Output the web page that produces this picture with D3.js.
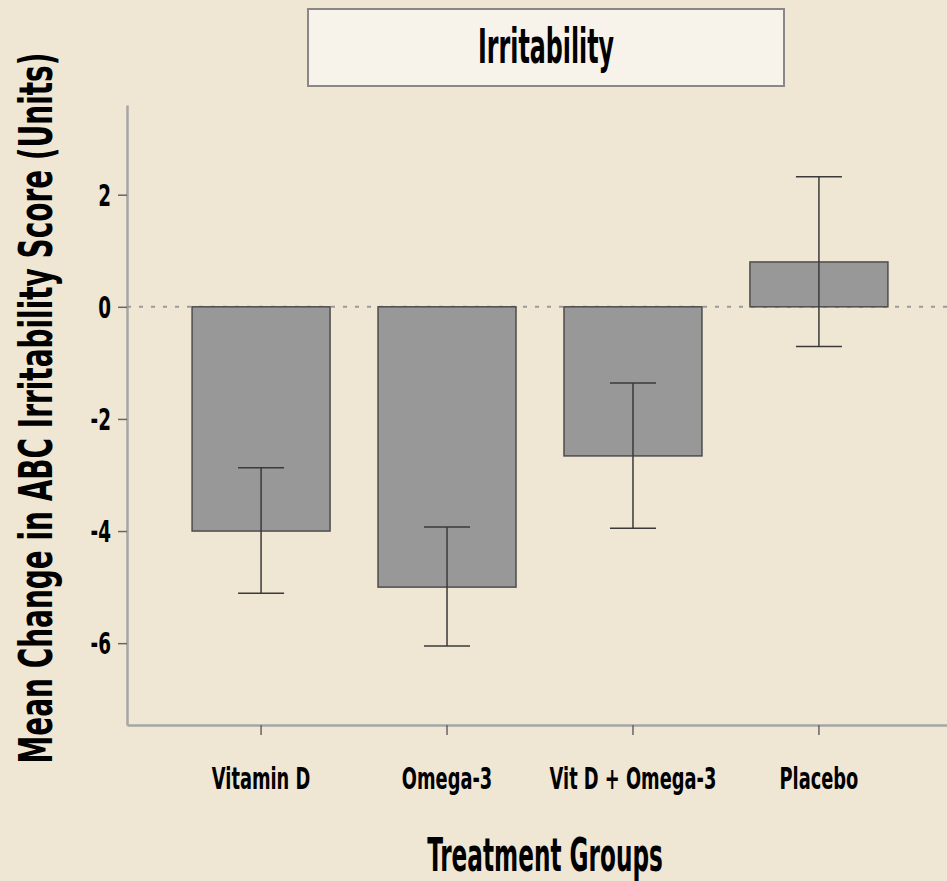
<!DOCTYPE html>
<html>
<head>
<meta charset="utf-8">
<script src="https://cdn.jsdelivr.net/npm/d3@7"></script>
<style>
  body { margin: 0; background: #f0e6d4; }
  text { font-family: "Liberation Sans Narrow", "DejaVu Sans Condensed", "Roboto", sans-serif; font-weight: bold; fill: #000; }
</style>
</head>
<body>
<div id="chart"></div>
<script>
// data
var groups = ["Vitamin D", "Omega-3", "Vit D + Omega-3", "Placebo"];
var means = [-4.0, -5.0, -2.66, 0.8];
var errLow = [-5.11, -6.05, -3.95, -0.71];
var errHigh = [-2.87, -3.93, -1.36, 2.32];
var yTicks = [-6, -4, -2, 0, 2];

var W = 947, H = 881;
var margin = { top: 105, left: 127, bottom: 725 };

var data = groups.map(function (g, i) {
    return { group: g, mean: means[i], lo: errLow[i], hi: errHigh[i] };
});

var svg = d3.select("#chart")
    .append("svg")
    .attr("width", W)
    .attr("height", H);

// squeeze text horizontally to get the condensed look
function squeeze(sel, k) {
    sel.each(function () {
        var len = this.getComputedTextLength();
        d3.select(this).attr("textLength", len * k).attr("lengthAdjust", "spacingAndGlyphs");
    });
}

var x = d3.scaleBand()
    .domain(groups)
    .range([margin.left, 953])
    .paddingInner(0.258)
    .paddingOuter(0.35);

var y = d3.scaleLinear()
    .domain([-7.46, 3.6])
    .range([margin.bottom, margin.top]);

// title box
svg.append("rect")
    .attr("x", 308).attr("y", 9)
    .attr("width", 476).attr("height", 77)
    .attr("fill", "#f7f2ea")
    .attr("stroke", "#888")
    .attr("stroke-width", 2);
svg.append("text")
    .attr("x", 546).attr("y", 63)
    .attr("text-anchor", "middle")
    .style("font-size", "48px")
    .text("Irritability")
    .call(squeeze, 0.55);

// Y axis
var yAxis = svg.append("g")
    .attr("transform", "translate(" + margin.left + ",0)")
    .call(d3.axisLeft(y).tickValues(yTicks).tickSize(9).tickPadding(7).tickSizeOuter(0)
        .tickFormat(function (d) { return String(d); }));
yAxis.select(".domain").attr("stroke", "#a6a6a6").attr("stroke-width", 2.5);
yAxis.selectAll(".tick line").attr("stroke", "#666").attr("stroke-width", 1.5);
yAxis.selectAll(".tick text").style("font-size", "30px").attr("dy", "0.36em").call(squeeze, 0.68);

// X axis
var xAxis = svg.append("g")
    .attr("transform", "translate(0," + margin.bottom + ")")
    .call(d3.axisBottom(x).tickSize(10).tickPadding(33).tickSizeOuter(0));
xAxis.select(".domain").attr("stroke", "#a6a6a6").attr("stroke-width", 2.5);
xAxis.selectAll(".tick line").attr("stroke", "#666").attr("stroke-width", 1.5);
xAxis.selectAll(".tick text").style("font-size", "30px").attr("dy", "0.71em").call(squeeze, 0.66);

// zero reference line
svg.append("line")
    .attr("x1", margin.left).attr("x2", W)
    .attr("y1", y(0)).attr("y2", y(0))
    .attr("stroke", "#9a9a9a")
    .attr("stroke-width", 2)
    .attr("stroke-dasharray", "4,8");

// bars
svg.selectAll(".bar")
    .data(data)
    .enter()
    .append("rect")
    .attr("class", "bar")
    .attr("x", function (d) { return x(d.group); })
    .attr("width", x.bandwidth())
    .attr("y", function (d) { return y(Math.max(0, d.mean)); })
    .attr("height", function (d) { return Math.abs(y(d.mean) - y(0)); })
    .attr("fill", "#989898")
    .attr("stroke", "#4d4d4d")
    .attr("stroke-width", 1.5);

// error bars
var eb = svg.selectAll(".err")
    .data(data)
    .enter()
    .append("g")
    .attr("class", "err")
    .attr("stroke", "#3a3a3a")
    .attr("stroke-width", 1.5);
eb.append("line")
    .attr("x1", function (d) { return x(d.group) + x.bandwidth() / 2; })
    .attr("x2", function (d) { return x(d.group) + x.bandwidth() / 2; })
    .attr("y1", function (d) { return y(d.lo); })
    .attr("y2", function (d) { return y(d.hi); });
["lo", "hi"].forEach(function (k) {
    eb.append("line")
        .attr("x1", function (d) { return x(d.group) + x.bandwidth() / 2 - 23; })
        .attr("x2", function (d) { return x(d.group) + x.bandwidth() / 2 + 23; })
        .attr("y1", function (d) { return y(d[k]); })
        .attr("y2", function (d) { return y(d[k]); });
});

// axis titles
svg.append("text")
    .attr("transform", "translate(52,408) rotate(-90)")
    .attr("text-anchor", "middle")
    .style("font-size", "46px")
    .text("Mean Change in ABC Irritability Score (Units)")
    .call(squeeze, 0.675);

svg.append("text")
    .attr("x", 545).attr("y", 871)
    .attr("text-anchor", "middle")
    .style("font-size", "46px")
    .text("Treatment Groups")
    .call(squeeze, 0.56);
</script>
</body>
</html>
